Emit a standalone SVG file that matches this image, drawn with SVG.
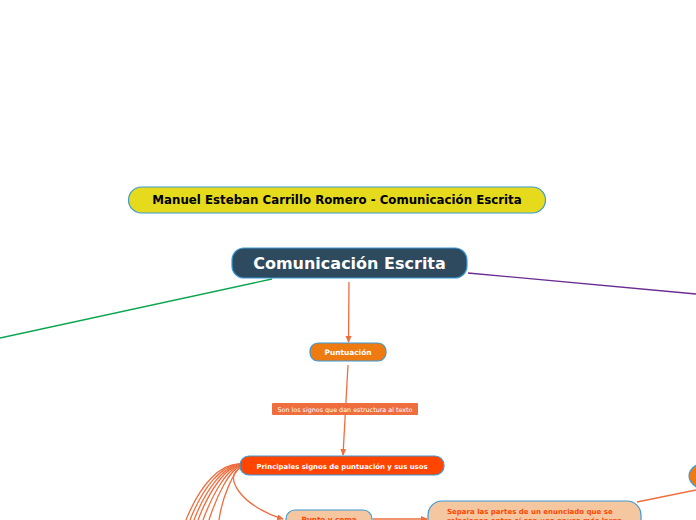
<svg xmlns="http://www.w3.org/2000/svg" width="696" height="520" viewBox="0 0 696 520">
<style>
.n{stroke:#3d9ad8;stroke-width:1.2}
.t{font-family:"DejaVu Sans",sans-serif;font-weight:bold;text-anchor:middle}
.c{fill:none;stroke:#ee6e3e;stroke-width:1.3}
</style>
<defs>
<marker id="a" markerWidth="8" markerHeight="8" refX="6" refY="3" orient="auto" markerUnits="userSpaceOnUse">
<path d="M0,0 L7,3 L0,6 Z" fill="#ee6e3e"/>
</marker>
</defs>
<rect width="696" height="520" fill="#fff"/>
<g id="connectors">
<line x1="272" y1="279" x2="0" y2="338" stroke="#0aa54f" stroke-width="1.3"/>
<line x1="468" y1="273" x2="696" y2="294" stroke="#6a2c91" stroke-width="1.3"/>
<line class="c" x1="349" y1="282" x2="348.5" y2="342" marker-end="url(#a)"/>
<line class="c" x1="348" y1="365" x2="343" y2="455" marker-end="url(#a)"/>
<line class="c" x1="373" y1="519" x2="427" y2="519" marker-end="url(#a)"/>
<line class="c" x1="637" y1="502" x2="696" y2="490"/>
<path class="c" d="M241,464 C220,463 200,485 186,520"/>
<path class="c" d="M241,464 C222,464 203,487 190,520"/>
<path class="c" d="M241,465 C224,465 206,489 194,520"/>
<path class="c" d="M241,465 C226,466 209,491 198,520"/>
<path class="c" d="M241,466 C228,467 213,493 203,520"/>
<path class="c" d="M241,466 C230,469 217,495 209,520"/>
<path class="c" d="M241,467 C233,472 222,498 219,520"/>
<path class="c" d="M241,468 C222,475 240,506 283,519" marker-end="url(#a)"/>
</g>
<g id="title">
<rect class="n" x="128.5" y="187" width="417" height="26" rx="13" fill="#e5da1c"/>
<text class="t" x="337" y="204" font-size="11.8" fill="#000">Manuel Esteban Carrillo Romero - Comunicación Escrita</text>
</g>
<g id="central">
<rect class="n" x="232" y="248" width="235" height="30" rx="12" fill="#2d4a5e"/>
<text class="t" x="349.5" y="269" font-size="16" fill="#fff">Comunicación Escrita</text>
</g>
<g id="puntuacion">
<rect class="n" x="310" y="343" width="76" height="18" rx="8" fill="#ee7a12"/>
<text class="t" x="348" y="355" font-size="7.4" fill="#fff">Puntuación</text>
</g>
<g id="label">
<rect x="272" y="403" width="146" height="12" rx="1" fill="#ee6e3e"/>
<text x="345" y="411.5" font-family="'DejaVu Sans',sans-serif" font-size="6.4" fill="#fff" text-anchor="middle">Son los signos que dan estructura al texto</text>
</g>
<g id="principales">
<rect class="n" x="240" y="456" width="204" height="19" rx="9" fill="#ff4500"/>
<text class="t" x="342" y="468.5" font-size="6.9" fill="#fff">Principales signos de puntuación y sus usos</text>
</g>
<g id="puntoycoma">
<rect class="n" x="286" y="510" width="86" height="24" rx="9" fill="#f5c7a0"/>
<text class="t" x="329" y="521.5" font-size="7.2" fill="#ff4500">Punto y coma</text>
</g>
<g id="separa">
<rect class="n" x="428" y="501" width="213" height="34" rx="14" fill="#f5c7a0"/>
<text font-family="'DejaVu Sans',sans-serif" font-weight="bold" font-size="7" fill="#ff4500">
<tspan x="447" y="514">Separa las partes de un enunciado que se</tspan>
<tspan x="447" y="523">relacionen entre sí con una pausa más larga</tspan>
</text>
</g>
<g id="right-node">
<ellipse class="n" cx="725" cy="476" rx="36" ry="18" fill="#ee7a12"/>
</g>
</svg>
